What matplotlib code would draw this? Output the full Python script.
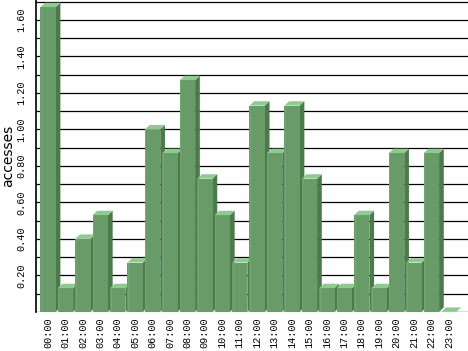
import matplotlib
matplotlib.use("Agg")
import matplotlib.pyplot as plt
from matplotlib.patches import Polygon, Rectangle

# hourly accesses
hours = ["%02d:00" % h for h in range(24)]
accesses = [1.67, 0.13, 0.40, 0.53, 0.13, 0.27, 1.00, 0.87, 1.27, 0.73, 0.53, 0.27,
            1.13, 0.87, 1.13, 0.73, 0.13, 0.13, 0.53, 0.13, 0.87, 0.27, 0.87, 0.00]
ytick_vals = [0.2, 0.4, 0.6, 0.8, 1.0, 1.2, 1.4, 1.6]

front_col = "#699b69"
side_col = "#4b7a4b"
top_col = "#8bce8b"
width = 0.88
dx, dy = 0.27, 0.024   # 3d depth in data units

fig = plt.figure(figsize=(4.68, 3.51), dpi=100)
ax = fig.add_axes([36 / 468, 39.2 / 351, 1 - 36 / 468, 1 - 39.2 / 351])
ax.set_xlim(-0.69, 24.1)
ax.set_ylim(0, 1.709)

# grid lines behind the bars
for k in range(0, 18):
    ax.axhline(k * 0.1, color="black", lw=0.9, zorder=1)

for i, v in enumerate(accesses):
    left = i - width / 2
    right = i + width / 2
    z = 2 + i * 0.01
    if v > 0:
        ax.add_patch(Polygon([(right, 0), (right + dx, dy), (right + dx, v + dy), (right, v)],
                             closed=True, fc=side_col, ec="none", zorder=z))
        ax.add_patch(Rectangle((left, 0), width, v, fc=front_col, ec="none", zorder=z + 0.001))
        ax.plot([left + 0.03, left + 0.03], [0, v], color="#75a775", lw=0.7, zorder=z + 0.002)
    ax.add_patch(Polygon([(left, v), (right, v), (right + dx, v + dy), (left + dx, v + dy)],
                         closed=True, fc=top_col, ec="none", zorder=z + 0.003, clip_on=False))

for s in ["top", "right", "bottom"]:
    ax.spines[s].set_visible(False)
ax.spines["left"].set_linewidth(1.2)
ax.spines["left"].set_zorder(5)

ax.set_xticks(range(24))
ax.set_xticklabels(hours, rotation=90, family="Liberation Mono", fontsize=7.3)
ax.set_yticks(ytick_vals)
ax.set_yticklabels(["%.2f" % t for t in ytick_vals], rotation=90, va="center",
                   family="Liberation Mono", fontsize=7.3)
ax.tick_params(axis="x", length=0, pad=4)
ax.tick_params(axis="y", length=0, pad=7)
ax.set_ylabel("accesses", fontsize=10, labelpad=1)

fig.savefig("out.png", dpi=100)
